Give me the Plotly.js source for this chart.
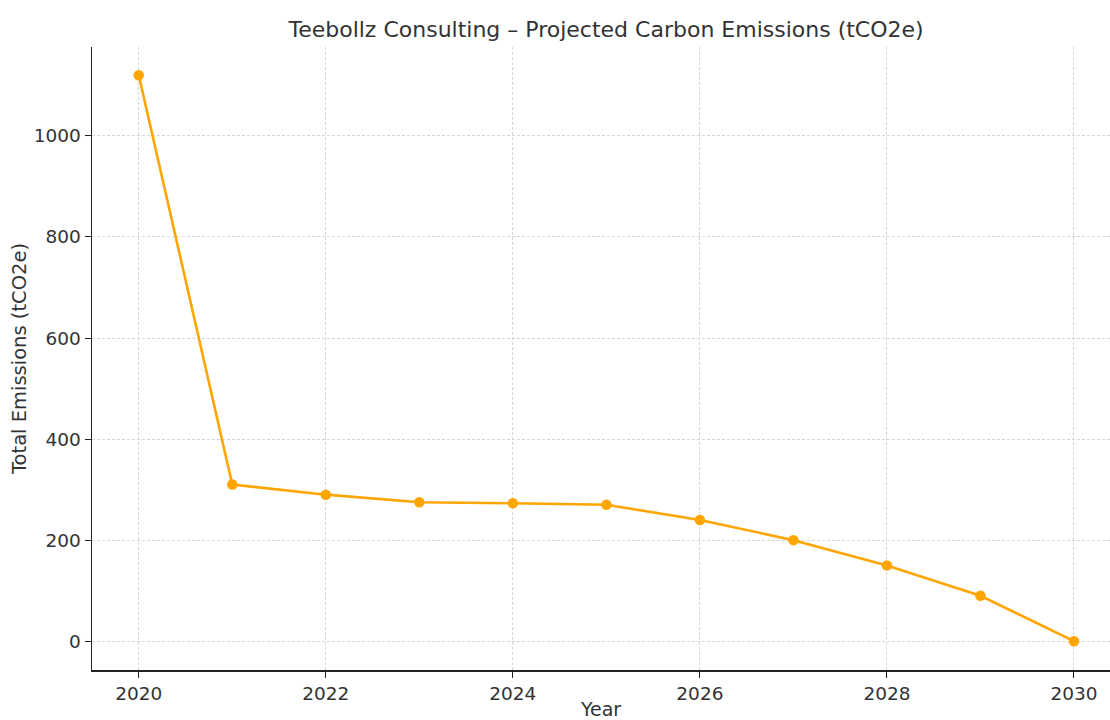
<!DOCTYPE html>
<html>
<head>
<meta charset="utf-8">
<script src="https://cdn.plot.ly/plotly-3.0.1.min.js"></script>
<style>html,body{margin:0;padding:0;background:#fff;}#chart{width:1110px;height:720px;}</style>
</head>
<body>
<div id="chart"></div>
<script>
const years = [2020, 2021, 2022, 2023, 2024, 2025, 2026, 2027, 2028, 2029, 2030];
const emissions = [1120, 310, 290, 275, 273, 270, 240, 200, 150, 90, 0];
const xTicks = [2020, 2022, 2024, 2026, 2028, 2030];
const yTicks = [0, 200, 400, 600, 800, 1000];

const trace = {
  x: years,
  y: emissions,
  type: 'scatter',
  mode: 'lines+markers',
  line: {color: '#FFA500', width: 2.6},
  marker: {color: '#FFA500', size: 10.5},
  hoverinfo: 'x+y'
};

const font = "'DejaVu Sans', sans-serif";
const grid = {showgrid: true, gridcolor: '#d6d6d6', griddash: '3px,2px', gridwidth: 1};
const layout = {
  width: 1110,
  height: 720,
  margin: {l: 92, r: 0, t: 47, b: 50},
  paper_bgcolor: '#fff',
  plot_bgcolor: '#fff',
  showlegend: false,
  font: {family: font, color: '#333', size: 18},
  title: {
    text: 'Teebollz Consulting – Projected Carbon Emissions (tCO2e)',
    font: {family: font, size: 22, color: '#333'},
    x: 0.546, xanchor: 'center',
    y: 1 - 29/720, yanchor: 'middle', yref: 'container'
  },
  xaxis: Object.assign({
    range: [2019.5, 2030.385],
    tickvals: xTicks,
    ticktext: xTicks.map(String),
    ticks: 'outside', ticklen: 6, tickwidth: 1, tickcolor: '#222',
    showline: true, linecolor: '#222', linewidth: 1.5,
    zeroline: false,
    tickfont: {family: font, size: 18.5, color: '#333'},
    title: {text: 'Year', font: {family: font, size: 19, color: '#333'}, standoff: 4}
  }, grid),
  yaxis: Object.assign({
    range: [-57, 1176],
    tickvals: yTicks,
    ticktext: yTicks.map(String),
    ticks: 'outside', ticklen: 6, tickwidth: 1, tickcolor: '#222',
    showline: true, linecolor: '#222', linewidth: 1.5,
    zeroline: false,
    tickfont: {family: font, size: 18.5, color: '#333'},
    title: {text: 'Total Emissions (tCO2e)', font: {family: font, size: 19.5, color: '#333'}, standoff: 2}
  }, grid)
};

Plotly.newPlot('chart', [trace], layout, {displayModeBar: false, staticPlot: true});
</script>
</body>
</html>
